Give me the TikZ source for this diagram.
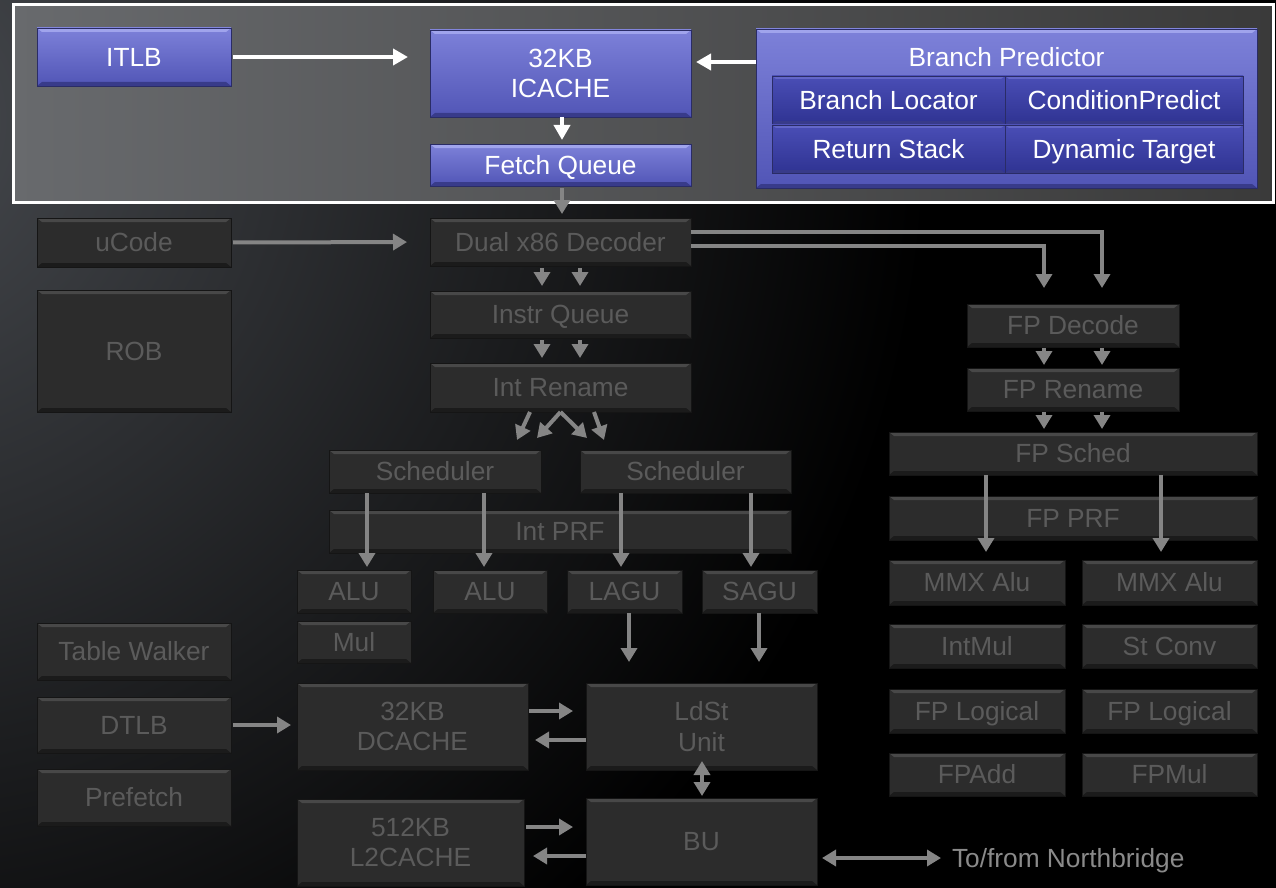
\documentclass[tikz,border=0pt]{standalone}
\usepackage{fontspec}
\setmainfont{Liberation Sans}
\usetikzlibrary{arrows.meta,calc}
\definecolor{bgL}{HTML}{474A4F}
\definecolor{frL}{HTML}{686A6D}
\definecolor{frR}{HTML}{3A3A3A}
\definecolor{dfill}{HTML}{2C2C2C}
\definecolor{dhi}{HTML}{484848}
\definecolor{dlo}{HTML}{1B1B1B}
\definecolor{dedge}{HTML}{151515}
\definecolor{dtext}{HTML}{5B5B5B}
\definecolor{btop}{HTML}{7D81D9}
\definecolor{bbot}{HTML}{5155B6}
\definecolor{bhi}{HTML}{A0A4EC}
\definecolor{blo}{HTML}{383B8A}
\definecolor{bedge}{HTML}{2A2C66}
\definecolor{ctop}{HTML}{4A4EB6}
\definecolor{cbot}{HTML}{2F3392}
\definecolor{chi}{HTML}{6367C8}
\definecolor{agray}{HTML}{858585}
\definecolor{nbtext}{HTML}{8A8A8A}
\begin{document}
\begin{tikzpicture}[x=1pt,y=-1pt,
  box/.style={rectangle, inner sep=0pt, outer sep=0pt, align=center, font=\fontsize{26.3}{30.5}\selectfont},
  one/.style={text height=18.8pt, text depth=0pt},
  dbox/.style={box, fill=dfill, draw=dedge, line width=0.8pt, text=dtext, path picture={
    \fill[dhi] (path picture bounding box.north west) -- (path picture bounding box.north east) -- ([shift={(-5pt,-4pt)}]path picture bounding box.north east) -- ([shift={(5pt,-4pt)}]path picture bounding box.north west) -- cycle;
    \fill[dlo] (path picture bounding box.south west) -- (path picture bounding box.south east) -- ([shift={(-5pt,4pt)}]path picture bounding box.south east) -- ([shift={(5pt,4pt)}]path picture bounding box.south west) -- cycle;}},
  bbox/.style={box, top color=btop, bottom color=bbot, draw=bedge, line width=0.8pt, text=white, path picture={
    \fill[bhi] (path picture bounding box.north west) -- (path picture bounding box.north east) -- ([shift={(-5pt,-4pt)}]path picture bounding box.north east) -- ([shift={(5pt,-4pt)}]path picture bounding box.north west) -- cycle;
    \fill[blo] (path picture bounding box.south west) -- (path picture bounding box.south east) -- ([shift={(-5pt,4pt)}]path picture bounding box.south east) -- ([shift={(5pt,4pt)}]path picture bounding box.south west) -- cycle;}},
  cbox/.style={box, one, top color=ctop, bottom color=cbot, draw=bedge, line width=0.8pt, text=white, path picture={
    \fill[chi] (path picture bounding box.north west) -- (path picture bounding box.north east) -- ([shift={(-4pt,-3pt)}]path picture bounding box.north east) -- ([shift={(4pt,-3pt)}]path picture bounding box.north west) -- cycle;
    \fill[blo] (path picture bounding box.south west) -- (path picture bounding box.south east) -- ([shift={(-4pt,3pt)}]path picture bounding box.south east) -- ([shift={(4pt,3pt)}]path picture bounding box.south west) -- cycle;}},
  garr/.style={draw=agray, line width=4pt, -{Triangle[length=14pt,width=16pt]}},
  gdarr/.style={draw=agray, line width=4pt, {Triangle[length=14pt,width=16pt]}-{Triangle[length=14pt,width=16pt]}},
  glin/.style={draw=agray, line width=3.5pt},
  warr/.style={draw=white, line width=4pt, -{Triangle[length=15pt,width=16pt]}}
]
% background
\useasboundingbox (0,0) rectangle (1276,888);
\fill[black] (0,0) rectangle (1276,888);
\begin{scope}
  \clip (0,0) rectangle (1276,888);
  \shade[inner color=bgL, outer color=black] (-120,120) circle (1050);
\end{scope}
% top frame
\shade[left color=frL, right color=frR] (13,5) rectangle (1273,202);
\draw[white, line width=3pt] (13,5) rectangle (1273,202);

% top blue blocks
\node[bbox, one, minimum width=194pt, minimum height=58pt] (ITLB) at (134,57) {ITLB};
\node[bbox, minimum width=261pt, minimum height=87pt] (IC) at (560.5,73.5) {32KB\\ICACHE};
\node[bbox, one, minimum width=261pt, minimum height=42pt] (FQ) at (560.5,165) {Fetch Queue};
\node[bbox, minimum width=501pt, minimum height=159pt] (BP) at (1006.5,108.5) {};
\node[box, one, text=white] (BPt) at (1006.5,57) {Branch Predictor};
\node[cbox, minimum width=233pt, minimum height=48pt] (BL) at (888.5,100) {Branch Locator};
\node[cbox, minimum width=238pt, minimum height=48pt] (CP) at (1124,100) {ConditionPredict};
\node[cbox, minimum width=233pt, minimum height=48pt] (RS) at (888.5,149) {Return Stack};
\node[cbox, minimum width=238pt, minimum height=48pt] (DT) at (1124,149) {Dynamic Target};

% left column
\node[dbox, one, minimum width=194pt, minimum height=49pt] (UC) at (134,242.5) {uCode};
\node[dbox, one, minimum width=194pt, minimum height=122pt] (ROB) at (134,351) {ROB};
\node[dbox, one, minimum width=194pt, minimum height=57pt] (TW) at (134,651.5) {Table Walker};
\node[dbox, one, minimum width=194pt, minimum height=56pt] (DTLB) at (134,725) {DTLB};
\node[dbox, one, minimum width=194pt, minimum height=57pt] (PF) at (134,797.5) {Prefetch};

% integer core
\node[dbox, one, minimum width=261pt, minimum height=48pt] (DEC) at (560.5,242) {Dual x86 Decoder};
\node[dbox, one, minimum width=261pt, minimum height=47pt] (IQ) at (560.5,314.5) {Instr Queue};
\node[dbox, one, minimum width=261pt, minimum height=49pt] (IR) at (560.5,387.5) {Int Rename};
\node[dbox, one, minimum width=212pt, minimum height=43pt] (S1) at (435,471.5) {Scheduler};
\node[dbox, one, minimum width=211pt, minimum height=43pt] (S2) at (685.5,471.5) {Scheduler};
\node[dbox, one, minimum width=462pt, minimum height=43pt] (PRF) at (560,531.5) {Int PRF};
\node[dbox, one, minimum width=114pt, minimum height=43pt] (ALU1) at (354,591.5) {ALU};
\node[dbox, one, minimum width=114pt, minimum height=43pt] (ALU2) at (490,591.5) {ALU};
\node[dbox, one, minimum width=115pt, minimum height=43pt] (LAGU) at (624.5,591.5) {LAGU};
\node[dbox, one, minimum width=115pt, minimum height=43pt] (SAGU) at (759.5,591.5) {SAGU};
\node[dbox, one, minimum width=114pt, minimum height=42pt] (MUL) at (354,642) {Mul};
\node[dbox, minimum width=231pt, minimum height=87pt] (DC) at (412.5,726.5) {32KB\\DCACHE};
\node[dbox, minimum width=231pt, minimum height=87pt] (LS) at (701.5,726.5) {LdSt\\Unit};
\node[dbox, minimum width=227pt, minimum height=87pt] (L2) at (410.5,842.5) {512KB\\L2CACHE};
\node[dbox, one, minimum width=231pt, minimum height=87pt] (BU) at (701.5,841.5) {BU};
\node[box, one, text=nbtext, anchor=west] (NB) at (952,858) {To/from Northbridge};

% FP core
\node[dbox, one, minimum width=212pt, minimum height=43pt] (FPD) at (1073,325.5) {FP Decode};
\node[dbox, one, minimum width=212pt, minimum height=43pt] (FPR) at (1073,389.5) {FP Rename};
\node[dbox, one, minimum width=368pt, minimum height=43pt] (FPS) at (1073,453.5) {FP Sched};
\node[dbox, one, minimum width=368pt, minimum height=44pt] (FPP) at (1073,518) {FP PRF};
\node[dbox, one, minimum width=176pt, minimum height=45pt] (MMX1) at (977,582.5) {MMX Alu};
\node[dbox, one, minimum width=175pt, minimum height=45pt] (MMX2) at (1169.5,582.5) {MMX Alu};
\node[dbox, one, minimum width=176pt, minimum height=44pt] (IMUL) at (977,646) {IntMul};
\node[dbox, one, minimum width=175pt, minimum height=44pt] (STC) at (1169.5,646) {St Conv};
\node[dbox, one, minimum width=176pt, minimum height=44pt] (FPL1) at (977,711) {FP Logical};
\node[dbox, one, minimum width=175pt, minimum height=44pt] (FPL2) at (1169.5,711) {FP Logical};
\node[dbox, one, minimum width=176pt, minimum height=43pt] (FPA) at (977,774.5) {FPAdd};
\node[dbox, one, minimum width=175pt, minimum height=43pt] (FPM) at (1169.5,774.5) {FPMul};

% helper coordinates
\coordinate (y62) at (0,62);
\coordinate (xf) at (562,0);
\coordinate (xa) at (542,0);
\coordinate (xb) at (580,0);
\coordinate (r1) at (517,440);
\coordinate (r2) at (537,438);
\coordinate (r3) at (587,438);
\coordinate (r4) at (604,440);
\coordinate (q1) at (530,0);
\coordinate (q4) at (594,0);
\coordinate (s1) at (367,0);
\coordinate (s2) at (484,0);
\coordinate (s3) at (621,0);
\coordinate (s4) at (751,0);
\coordinate (t1) at (629,0);
\coordinate (t2) at (759,0);
\coordinate (yd1) at (0,711);
\coordinate (yd2) at (0,740);
\coordinate (yl1) at (0,827);
\coordinate (yl2) at (0,856);
\coordinate (xl) at (702,0);
\coordinate (f1) at (1102,232);
\coordinate (f2) at (1044,246);
\coordinate (fs1) at (986,0);
\coordinate (fs2) at (1161,0);

% top arrows
\draw[warr, shorten <=2pt, shorten >=22pt] (ITLB.east) -- (IC.west |- ITLB.east);
\draw[warr, shorten >=5pt] (BP.west |- y62) -- (IC.east |- y62);
\draw[warr, shorten >=4pt] (IC.south -| xf) -- (FQ.north -| xf);
\draw[garr, shorten <=2pt, shorten >=4pt] (FQ.south -| xf) -- (DEC.north -| xf);

% decode chain
\draw[garr, shorten <=2pt, shorten >=23pt] (UC.east) -- (DEC.west);
\draw[garr, shorten <=2pt, shorten >=5pt] (DEC.south -| xa) -- (IQ.north -| xa);
\draw[garr, shorten <=2pt, shorten >=5pt] (DEC.south -| xb) -- (IQ.north -| xb);
\draw[garr, shorten <=2pt, shorten >=5pt] (IQ.south -| xa) -- (IR.north -| xa);
\draw[garr, shorten <=2pt, shorten >=5pt] (IQ.south -| xb) -- (IR.north -| xb);
\draw[garr] (IR.south -| q1) -- (r1);
\draw[garr] (IR.south) -- (r2);
\draw[garr] (IR.south) -- (r3);
\draw[garr] (IR.south -| q4) -- (r4);

% schedulers to units
\draw[garr, shorten >=3pt] (S1.south -| s1) -- (ALU1.north -| s1);
\draw[garr, shorten >=3pt] (S1.south -| s2) -- (ALU2.north -| s2);
\draw[garr, shorten >=3pt] (S2.south -| s3) -- (LAGU.north -| s3);
\draw[garr, shorten >=3pt] (S2.south -| s4) -- (SAGU.north -| s4);
\draw[garr, shorten >=21pt] (LAGU.south -| t1) -- (LS.north -| t1);
\draw[garr, shorten >=21pt] (SAGU.south -| t2) -- (LS.north -| t2);

% memory
\draw[garr, shorten <=2pt, shorten >=6pt] (DTLB.east) -- (DC.west |- DTLB.east);
\draw[garr, shorten <=1pt, shorten >=13pt] (DC.east |- yd1) -- (LS.west |- yd1);
\draw[garr, shorten >=7pt] (LS.west |- yd2) -- (DC.east |- yd2);
\draw[garr, shorten <=2pt, shorten >=13pt] (L2.east |- yl1) -- (LS.west |- yl1);
\draw[garr, shorten >=9pt] (BU.west |- yl2) -- (L2.east |- yl2);
\draw[gdarr, shorten <=-9pt, shorten >=2pt] (LS.south -| xl) -- (BU.north -| xl);
\draw[gdarr, shorten <=5pt, shorten >=11pt] (BU.east |- NB.west) -- (NB.west);

% FP path
\draw[glin, -{Triangle[length=14pt,width=16pt]}, shorten >=16pt] (DEC.east |- f1) -- (f1) -- (FPD.north -| f1);
\draw[glin, -{Triangle[length=14pt,width=16pt]}, shorten >=16pt] (DEC.east |- f2) -- (f2) -- (FPD.north -| f2);
\draw[garr, shorten <=1pt, shorten >=3pt] (FPD.south -| f2) -- (FPR.north -| f2);
\draw[garr, shorten <=1pt, shorten >=3pt] (FPD.south -| f1) -- (FPR.north -| f1);
\draw[garr, shorten <=1pt, shorten >=3pt] (FPR.south -| f2) -- (FPS.north -| f2);
\draw[garr, shorten <=1pt, shorten >=3pt] (FPR.south -| f1) -- (FPS.north -| f1);
\draw[garr, shorten >=8pt] (FPS.south -| fs1) -- (MMX1.north -| fs1);
\draw[garr, shorten >=8pt] (FPS.south -| fs2) -- (MMX2.north -| fs2);
\end{tikzpicture}
\end{document}
